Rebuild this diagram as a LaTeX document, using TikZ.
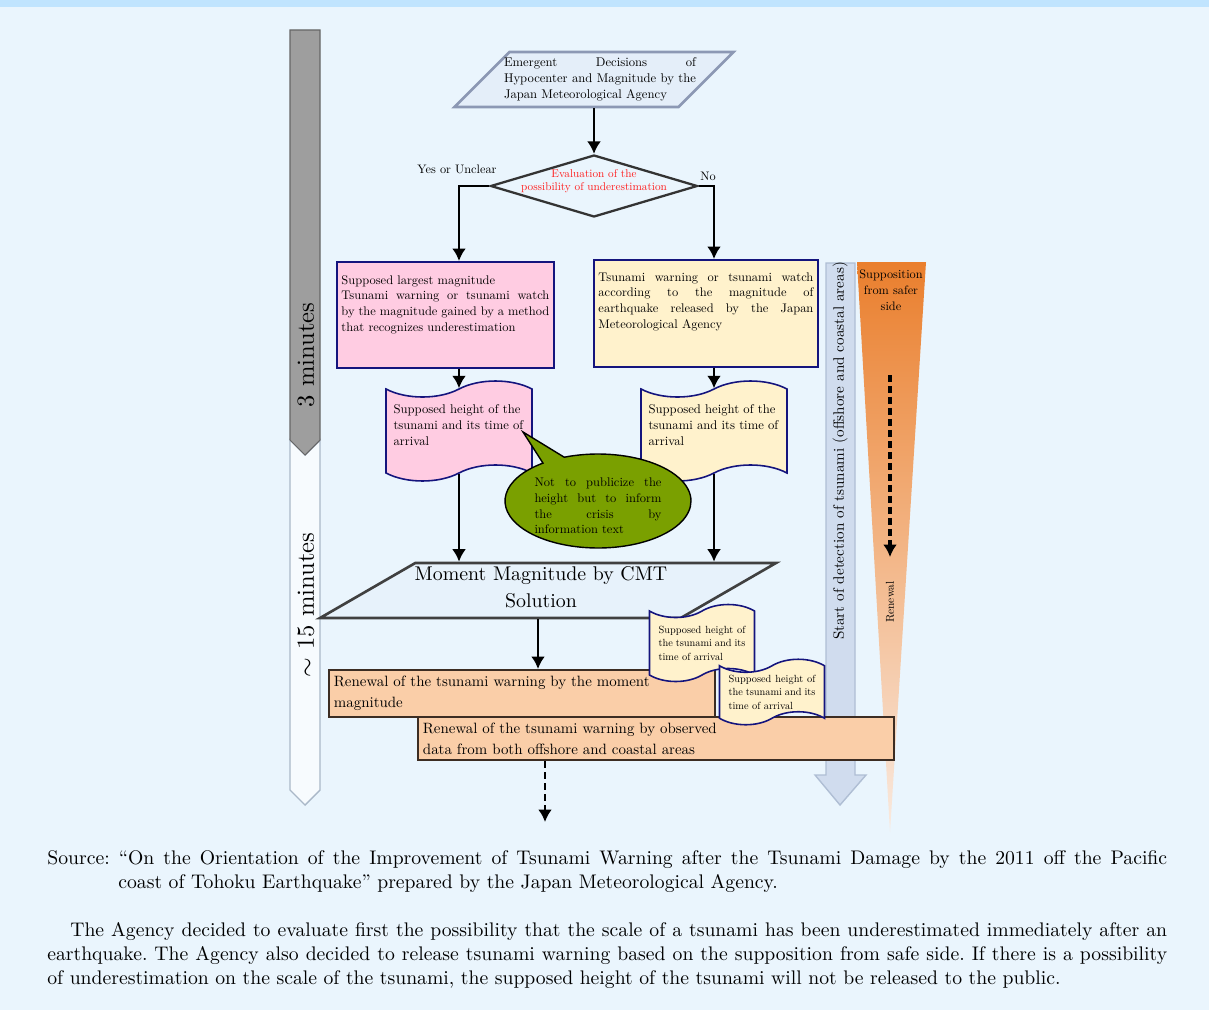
\documentclass[tikz,border=0pt]{standalone}
\usetikzlibrary{shapes.geometric,shapes.symbols,shapes.callouts,arrows.meta}
% one design size of Latin Modern for every size
\DeclareFontShape{TU}{lmr}{m}{n}{<-> "[lmroman10-regular]:mapping=tex-text;"}{}
\frenchspacing

\definecolor{bgblue}{RGB}{234,245,253}
\definecolor{topband}{RGB}{192,228,254}
\definecolor{navyline}{RGB}{20,20,125}
\definecolor{pinkfill}{RGB}{255,204,226}
\definecolor{creamfill}{RGB}{255,242,204}
\definecolor{peachfill}{RGB}{250,206,168}
\definecolor{brownline}{RGB}{60,45,35}
\definecolor{olivefill}{RGB}{122,160,0}
\definecolor{paraline}{RGB}{140,152,180}
\definecolor{parafill}{RGB}{228,238,249}
\definecolor{bargray}{RGB}{158,158,158}
\definecolor{barline}{RGB}{170,184,200}
\definecolor{detectfill}{RGB}{208,220,238}
\definecolor{detectline}{RGB}{175,190,212}
\definecolor{orangetop}{RGB}{232,116,28}
\definecolor{orangemid}{RGB}{241,170,115}
\definecolor{orangelow}{RGB}{249,234,224}
\definecolor{evalred}{RGB}{255,30,30}
\pgfdeclareverticalshading{saferwedge}{100bp}{color(0bp)=(orangelow); color(25bp)=(orangelow); color(55bp)=(orangemid); color(80bp)=(orangetop); color(100bp)=(orangetop)}

\begin{document}
\begin{tikzpicture}[x=0.02cm, y=-0.02cm,
  box/.style={draw=navyline, line width=1.1pt, anchor=north west, inner xsep=0.09cm, inner ysep=0.27cm, font=\fontsize{7.1}{8.9}\selectfont},
  wavedoc/.style={tape, draw=navyline, line width=0.9pt, tape bend height=0.32cm, minimum width=2.92cm, minimum height=2cm, inner sep=0.1cm, font=\fontsize{7.2}{9.1}\selectfont},
  smalldoc/.style={wavedoc, fill=creamfill, minimum width=2.1cm, tape bend height=0.26cm, inner sep=0.05cm, text width=1.74cm, align=justify, font=\fontsize{5.9}{7.7}\selectfont},
  renewbox/.style={draw=brownline, line width=1.1pt, fill=peachfill, anchor=north west, align=left, inner xsep=0.1cm, font=\fontsize{8.5}{12}\selectfont},
  arr/.style={-{Latex[length=0.25cm, width=0.28cm]}, line width=1.5pt},
  darr/.style={arr, dash pattern=on 0.14cm off 0.08cm}
]
% page
\fill[bgblue] (0,0) rectangle (1209,1010);
\fill[topband] (0,0) rectangle (1209,7);
\useasboundingbox (0,0) rectangle (1209,1010);

% time bar on the left
\draw[barline, line width=0.8pt, fill=white!60!bgblue] (290,440) -- (305,455) -- (320,440) -- (320,790) -- (305,805) -- (290,790) -- cycle;
\draw[gray!80!black, line width=0.6pt, fill=bargray] (290,30) -- (320,30) -- (320,440) -- (305,455) -- (290,440) -- cycle;
\node[rotate=90, font=\fontsize{14}{16}\selectfont] (three) at (306,355) {3 minutes};
\node[rotate=90, font=\fontsize{14}{16}\selectfont] (fifteen) at (306,605) {$\sim$ 15 minutes};

% detection arrow and safer side wedge
\draw[detectline, line width=0.8pt, fill=detectfill] (826,263) -- (855,263) -- (855,775) -- (866,775) -- (840,805) -- (815,775) -- (826,775) -- cycle;
\node[rotate=90, font=\fontsize{8.6}{10}\selectfont] (detect) at (840,451) {Start of detection of tsunami (offshore and coastal areas)};
\shade[shading=saferwedge] (857,262) -- (926,262) -- (890,832) -- cycle;
\node[align=center, font=\fontsize{7}{9.1}\selectfont] (safer) at (891,290) {Supposition\\from safer\\side};
\coordinate (rtop) at (890,375);
\coordinate (rend) at (890,557);
\node[rotate=90, font=\fontsize{6.5}{8}\selectfont] (renew) at (890,602) {Renewal};

% flow
\node[trapezium, trapezium left angle=45, trapezium right angle=135, trapezium stretches body,
  minimum width=5.58cm, text height=1.1cm, text depth=0pt, inner sep=0pt, draw=paraline, line width=1.5pt, fill=parafill,
  label={[text width=3.84cm, align=justify, font=\fontsize{7.2}{9.1}\selectfont, xshift=0.12cm]center:Emergent Decisions of\linebreak Hypocenter and Magnitude by the\linebreak Japan Meteorological Agency}] (emerg) at (594,79.5) {};
\node[diamond, minimum width=4.14cm, minimum height=1.24cm, inner sep=0pt, draw=black!80, line width=1.3pt, fill=bgblue,
  label={[align=center, text=evalred, font=\fontsize{6.4}{7.4}\selectfont, yshift=0.09cm]center:Evaluation of the\\possibility of underestimation}] (eval) at (594,186) {};
\node[font=\fontsize{7}{9}\selectfont] (yes) at (457,169) {Yes or Unclear};
\node[font=\fontsize{7}{9}\selectfont] (no) at (708,176) {No};

\node[box, fill=pinkfill] (largest) at (336,261) {\parbox[t][1.58cm][t]{4.16cm}{Supposed largest magnitude\\
  Tsunami warning or tsunami watch\linebreak by the magnitude gained by a method\linebreak that recognizes underestimation}};
\node[box, fill=creamfill] (jma) at (593,259) {\parbox[t][1.6cm][t]{4.3cm}{\vspace*{-0.02cm}Tsunami warning or tsunami watch\linebreak
  according to the magnitude of\linebreak earthquake released by the Japan\linebreak Meteorological Agency}};

\node[wavedoc, fill=pinkfill] (hleft) at (459,431) {\parbox{2.62cm}{\raggedright Supposed height of the\\tsunami and its time of\\arrival\par\vspace{0.24cm}}};
\node[wavedoc, fill=creamfill] (hright) at (714,431) {\parbox{2.62cm}{\raggedright Supposed height of the\\tsunami and its time of\\arrival\par\vspace{0.24cm}}};

\node[trapezium, trapezium left angle=30, trapezium right angle=150, trapezium stretches body,
  minimum width=9.12cm, text height=1.1cm, text depth=0pt, inner sep=0pt, draw=black!75, line width=1.5pt, fill=parafill!50!bgblue,
  label={[align=center, font=\fontsize{11.3}{15.4}\selectfont, xshift=-0.14cm, yshift=0.06cm]center:Moment Magnitude by CMT\\Solution}] (cmt) at (548,590.5) {};

\draw[arr] (emerg.south) -- (eval.north);
\draw[arr] (eval.west) -| (hleft.north |- largest.north);
\draw[arr] (eval.east) -| (hright.north |- jma.north);
\draw[arr] (largest.south -| hleft.north) -- (hleft.north);
\draw[arr] (jma.south -| hright.north) -- (hright.north);
\draw[arr] (hleft.south) -- (hleft.south |- cmt.north);
\draw[arr] (hright.south) -- (hright.south |- cmt.north);

\node[ellipse callout, callout absolute pointer={(523,432)}, draw=black, line width=0.8pt, fill=olivefill,
  minimum width=3.72cm, minimum height=1.88cm, inner sep=0pt, font=\fontsize{7.1}{8.9}\selectfont] (nopub) at (598,501)
  {\parbox{2.54cm}{\vspace*{0.2cm}Not to publicize the\linebreak height but to inform\linebreak the crisis by\linebreak information text}};

\node[renewbox, minimum height=0.94cm, text width=7.52cm] (moment) at (328,669) {Renewal of the tsunami warning by the moment\\magnitude};
\node[renewbox, minimum height=0.84cm, text width=9.32cm] (observed) at (417,716) {Renewal of the tsunami warning by observed\\data from both offshore and coastal areas};
\draw[arr] ([xshift=-0.2cm]cmt.south) -- ([xshift=-0.2cm]cmt.south |- moment.north);

\node[smalldoc, minimum height=1.54cm] (hsmall1) at (702,643) {Supposed height of\linebreak the tsunami and its\linebreak time of arrival};
\node[smalldoc, minimum height=1.28cm] (hsmall2) at (772,692) {Supposed height of\linebreak the tsunami and its\linebreak time of arrival};

\coordinate (nextstep) at (545,822);
\draw[darr] (observed.south -| nextstep) -- (nextstep);
\draw[darr, line width=2pt] (rtop) -- (rend);

% caption
\node[anchor=north west, inner sep=0pt, text width=22.4cm, align=justify, font=\fontsize{11.2}{13.66}\selectfont] (source) at (47,850)
  {Source: “On the Orientation of the Improvement of Tsunami Warning after the Tsunami Damage by the 2011 off the Pacific\linebreak
  \hspace*{1.42cm}coast of Tohoku Earthquake” prepared by the Japan Meteorological Agency.};
\node[anchor=north west, inner sep=0pt, text width=22.4cm, align=justify, font=\fontsize{11.2}{13.66}\selectfont] (summary) at (47,922)
  {\hspace*{0.46cm}The Agency decided to evaluate first the possibility that the scale of a tsunami has been underestimated immediately after an\linebreak
  earthquake. The Agency also decided to release tsunami warning based on the supposition from safe side. If there is a possibility\linebreak
  of underestimation on the scale of the tsunami, the supposed height of the tsunami will not be released to the public.};
\end{tikzpicture}
\end{document}
